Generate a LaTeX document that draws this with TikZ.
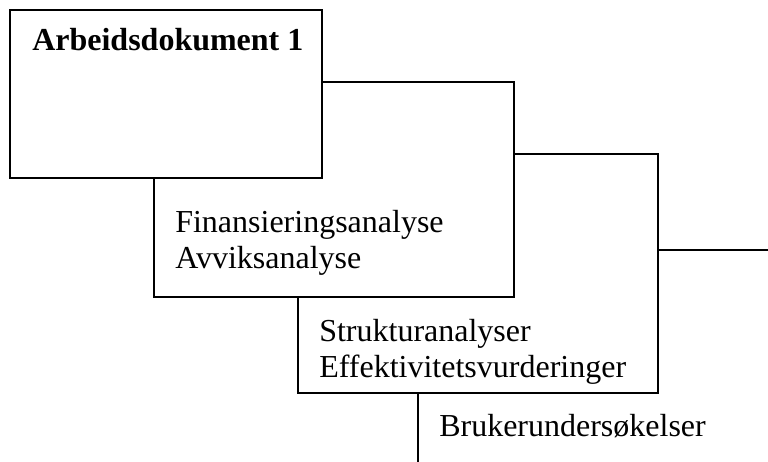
\documentclass[tikz,border=0pt]{standalone}
\usepackage{fontspec}
\setmainfont{Liberation Serif}
\begin{document}
\begin{tikzpicture}[x=0.75pt,y=-0.75pt,
  panel/.style={draw=black, fill=white, line width=1.5pt},
  lbl/.style={anchor=base west, inner sep=0pt, font=\fontsize{24}{28}\selectfont}]
\useasboundingbox (0,0) rectangle (768,461);
\begin{scope}
  \clip (0,0) rectangle (768,461);
  % stacked panels, back to front
  \draw[panel] (418,250) rectangle (800,500);
  \draw[panel] (298,154) rectangle (658,393);
  \draw[panel] (154,82) rectangle (514,297);
  \draw[panel] (10,10) rectangle (322,178);
\end{scope}
% panel texts
\node[lbl] (title) at (32,50) {\bfseries Arbeidsdokument 1};
\node[lbl] (fin) at (175,232) {Finansieringsanalyse};
\node[lbl] (avv) at (175,268) {Avviksanalyse};
\node[lbl] (str) at (319,341) {Strukturanalyser};
\node[lbl] (eff) at (319,377) {Effektivitetsvurderinger};
\node[lbl] (bru) at (439,436) {Brukerundersøkelser};
\end{tikzpicture}
\end{document}
